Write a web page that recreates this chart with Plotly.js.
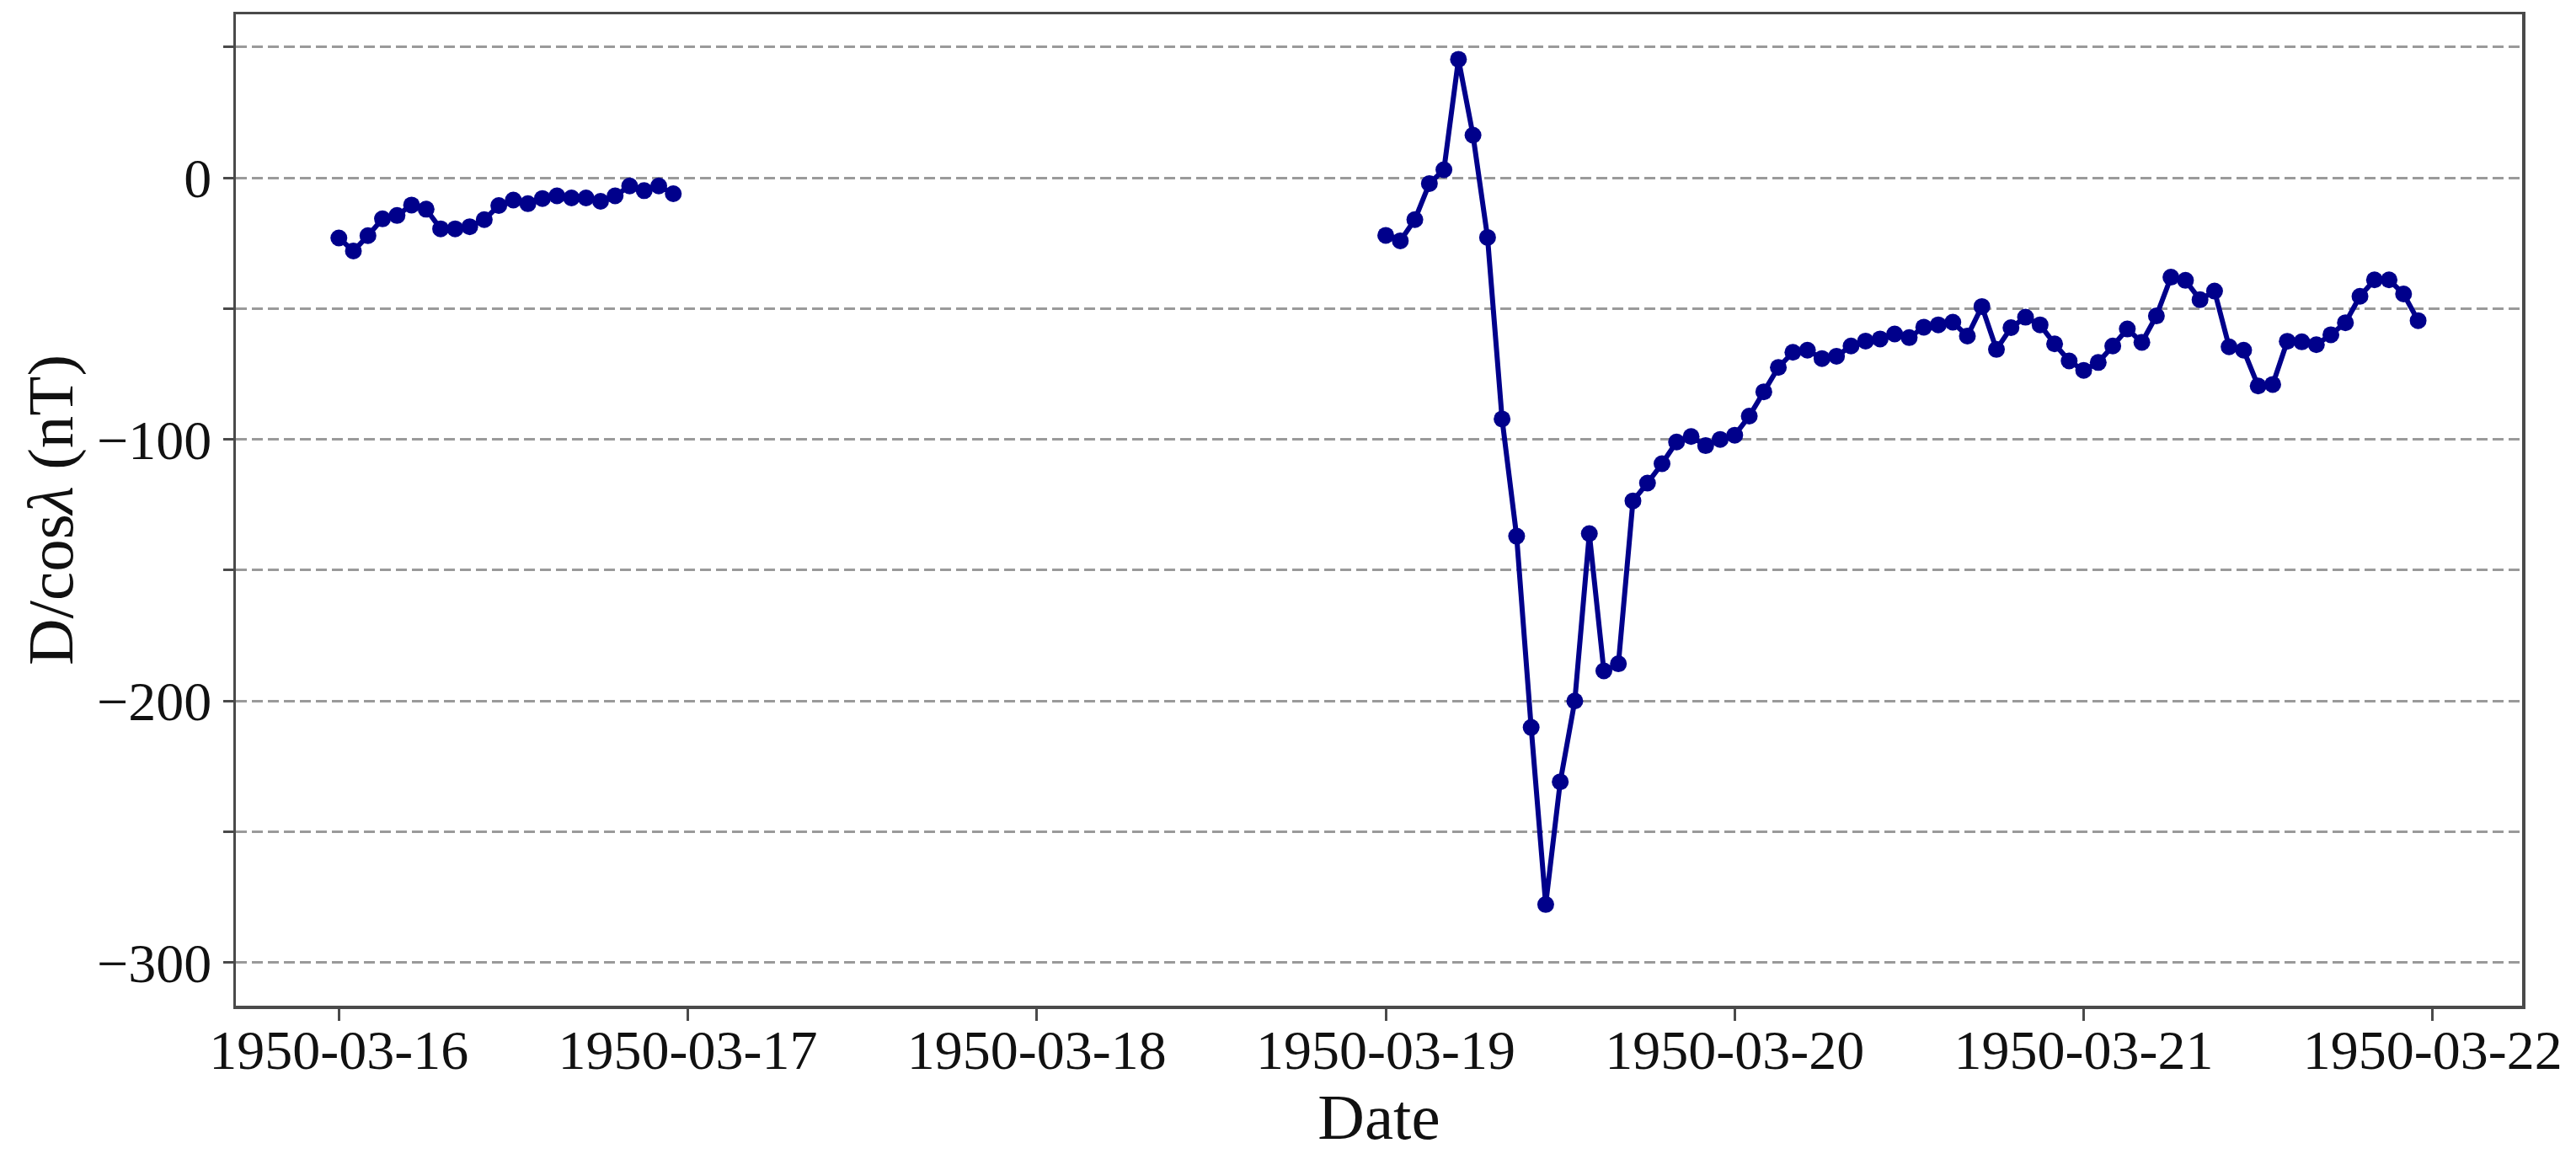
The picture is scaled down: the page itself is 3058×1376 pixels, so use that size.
<!DOCTYPE html>
<html>
<head>
<meta charset="utf-8">
<script src="https://cdn.plot.ly/plotly-3.0.1.min.js"></script>
<style>html,body{margin:0;padding:0;background:#fff;}#chart{width:3058px;height:1376px;}</style>
</head>
<body>
<div id="chart"></div>
<script>
// Hourly D/cosλ values (nT)
const start1 = '1950-03-16T00:00:00';
const values1 = [-23.0, -28.0, -22.1, -15.7, -14.4, -10.4, -12.0, -19.5, -19.5, -18.7, -16.0, -10.6,
                 -8.5, -9.9, -7.9, -6.9, -7.7, -7.7, -9.0, -6.9, -3.1, -4.9, -3.1, -6.1];
const start2 = '1950-03-19T00:00:00';
const values2 = [
  // 1950-03-19
  -22.0, -24.1, -16.0, -2.2, 3.1, 45.3, 16.3, -22.8, -92.2, -137.0, -210.1, -277.8,
  -230.9, -200.0, -136.0, -188.5, -185.8, -123.5, -116.7, -109.3, -101.0, -98.9, -102.4, -100.0,
  // 1950-03-20
  -98.4, -91.1, -81.8, -72.5, -66.7, -65.9, -69.1, -68.2, -64.3, -62.4, -61.6, -59.7,
  -61.1, -57.1, -56.2, -55.2, -60.5, -49.2, -65.6, -57.3, -53.3, -56.2, -63.5, -70.0,
  // 1950-03-21
  -73.6, -70.6, -64.3, -57.8, -62.9, -52.8, -38.0, -39.2, -46.6, -43.3, -64.6, -65.9,
  -79.6, -79.0, -62.5, -62.7, -63.8, -60.0, -55.4, -45.3, -39.0, -39.0, -44.4, -54.6
];
const xTickVals = ['1950-03-16', '1950-03-17', '1950-03-18', '1950-03-19', '1950-03-20', '1950-03-21', '1950-03-22'];
const yTickVals = [50, 0, -50, -100, -150, -200, -250, -300];
const yTickText = ['', '0', '', '\u2212100', '', '\u2212200', '', '\u2212300'];

function hourly(startIso, n) {
  const t0 = new Date(startIso + 'Z').getTime();
  const out = [];
  for (let i = 0; i < n; i++) {
    const d = new Date(t0 + i * 3600000);
    out.push(d.toISOString().slice(0, 19).replace('T', ' '));
  }
  return out;
}

const x = hourly(start1, values1.length).concat([null]).concat(hourly(start2, values2.length));
const y = values1.concat([null]).concat(values2);

const color = '#00008B';
const fontFam = '"Liberation Serif", "Times New Roman", serif';

const trace = {
  x: x, y: y, type: 'scatter', mode: 'lines+markers',
  connectgaps: false,
  line: {color: color, width: 6},
  marker: {color: color, size: 20, symbol: 'circle'}
};

const layout = {
  width: 3058, height: 1376,
  margin: {l: 280, r: 64, t: 17, b: 182},
  paper_bgcolor: '#fff', plot_bgcolor: '#fff',
  font: {family: fontFam, size: 66, color: '#111'},
  showlegend: false,
  xaxis: {
    type: 'date',
    range: ['1950-03-15 16:55:00', '1950-03-22 06:09:00'],
    tickvals: xTickVals,
    ticktext: xTickVals,
    showgrid: false, zeroline: false,
    showline: true, mirror: true, linecolor: '#4a4a4a', linewidth: 3.5,
    ticks: 'outside', ticklen: 14, tickwidth: 3, tickcolor: '#4a4a4a',
    ticklabelstandoff: -22,
    tickfont: {family: fontFam, size: 66, color: '#111'},
    title: {text: 'Date', font: {family: fontFam, size: 77, color: '#111'}, standoff: 8}
  },
  yaxis: {
    range: [-316.5, 62.5],
    tickvals: yTickVals,
    ticktext: yTickText,
    showgrid: true, gridcolor: '#9a9a9a', gridwidth: 3, griddash: '13px,6px',
    zeroline: false,
    showline: true, mirror: true, linecolor: '#4a4a4a', linewidth: 3.5,
    ticks: 'outside', ticklen: 12, tickwidth: 3, tickcolor: '#4a4a4a',
    tickfont: {family: fontFam, size: 66, color: '#111'},
    title: {text: 'D/cos<i>λ</i> (nT)', font: {family: fontFam, size: 77, color: '#111'}, standoff: 4}
  }
};

Plotly.newPlot('chart', [trace], layout, {displayModeBar: false, staticPlot: true});
</script>
</body>
</html>
